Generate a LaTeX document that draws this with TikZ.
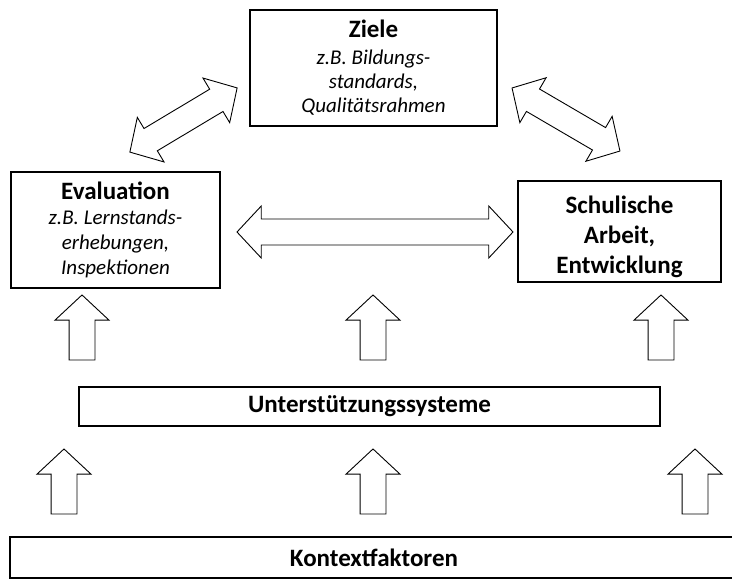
\documentclass[tikz,border=0pt]{standalone}
\usepackage{fontspec}
\setmainfont{Carlito}
\usetikzlibrary{shapes.arrows}

\tikzset{
  box/.style={draw=black, line width=2.5pt, fill=white, inner sep=0pt, align=center},
  arrowbase/.style={draw=black, line width=0.9pt, fill=white, inner xsep=0pt, inner ysep=12.5pt},
  upblock/.style={arrowbase, single arrow, minimum height=65pt, minimum width=53pt,
    single arrow head extend=14pt, single arrow tip angle=94, rotate=90},
  twoway/.style={arrowbase, double arrow, minimum width=52pt,
    double arrow head extend=13pt, double arrow tip angle=94},
  subtext/.style={font=\fontsize{21}{24}\selectfont\itshape},
  boldtext/.style={font=\fontsize{25}{29}\selectfont\bfseries},
}
\newcommand{\headline}[1]{{\fontsize{25}{29}\selectfont\bfseries\upshape #1}}

\begin{document}
\begin{tikzpicture}[x=1pt, y=-1pt]
\useasboundingbox (0,0) rectangle (732,579);

% main boxes
\node[box, subtext, minimum width=247pt, minimum height=116pt] (ziele) at (373.5,68)
  {\headline{Ziele}\\[3pt] z.B. Bildungs-\\ standards,\\ Qualitätsrahmen};
\node[box, subtext, minimum width=209pt, minimum height=116pt] (eval) at (115.5,230)
  {\headline{Evaluation}\\[1pt] z.B. Lernstands-\\[1pt] erhebungen,\\[1pt] Inspektionen};
\node[box, minimum width=203pt, minimum height=101pt] (schul) at (619.5,231.5) {};
\node[font=\fontsize{25}{30}\selectfont\bfseries, align=center, inner sep=0pt] (schultext)
  at ([yshift=-5pt]schul.center) {Schulische\\ Arbeit,\\ Entwicklung};
\node[box, boldtext, minimum width=581pt, minimum height=39pt] (unter) at (369.5,406.5)
  {Unterstützungssysteme};
\node[box, boldtext, minimum width=728pt, minimum height=41pt] (kontext) at (374,557.5)
  {Kontextfaktoren};

% two-way block arrows between the main boxes
\node[twoway, minimum height=125pt, rotate=30.9] (a1) at (183.5,120) {};
\node[twoway, minimum height=125pt, rotate=-30.3] (a2) at (566,119.5) {};
\node[twoway, minimum height=276pt] (a3) at (375,232) {};

% upward block arrows: support systems to the upper level
\node[upblock] (u1) at (82,333.5) {};
\node[upblock] (u2) at (373,333.5) {};
\node[upblock] (u3) at (661,333.5) {};

% upward block arrows: context factors to support systems
\node[upblock] (k1) at (64,487.5) {};
\node[upblock] (k2) at (373,487.5) {};
\node[upblock] (k3) at (695,487.5) {};
\end{tikzpicture}
\end{document}
